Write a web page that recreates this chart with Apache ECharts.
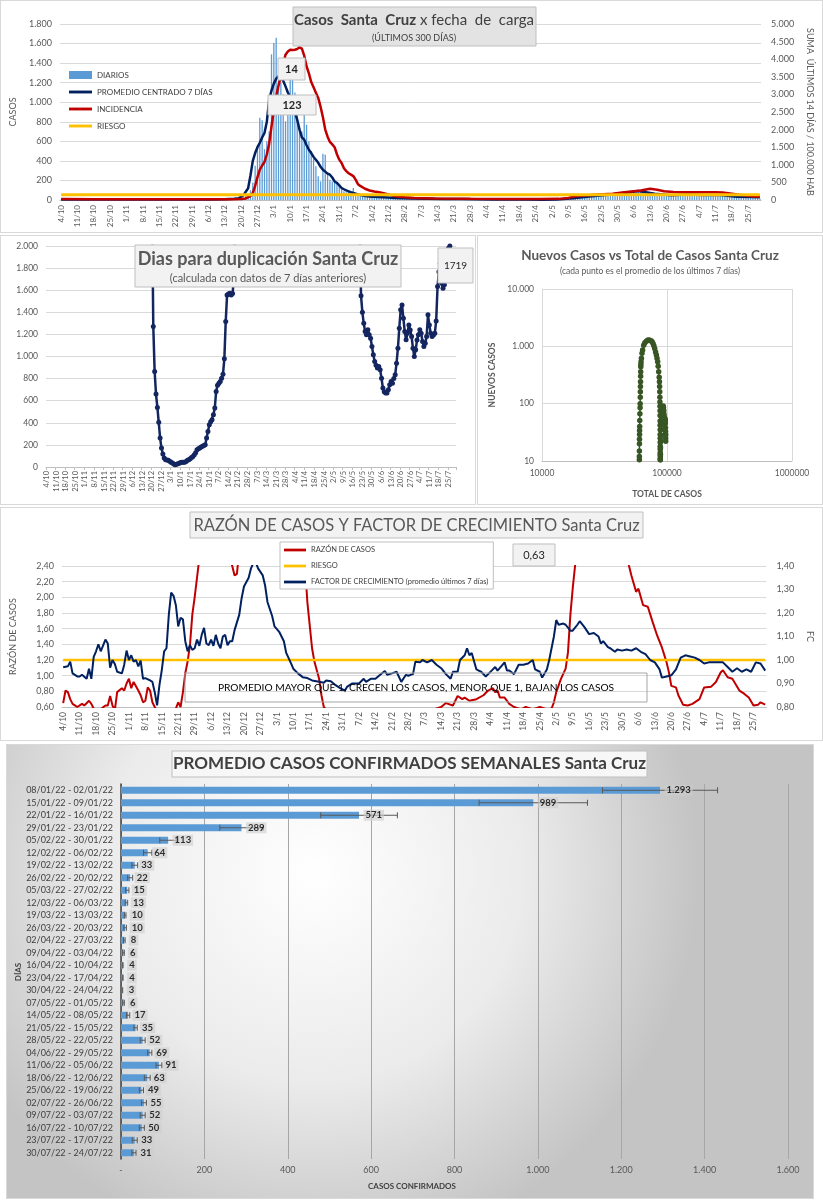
<!DOCTYPE html>
<html><head><meta charset="utf-8">
<script src="https://cdn.jsdelivr.net/npm/echarts@6/dist/echarts.min.js"></script>
<style>
body{margin:0;background:#fff;width:823px;height:1200px;position:relative;overflow:hidden}
.p{position:absolute;box-shadow:0 0 0 1px #d9d9d9}
</style></head><body>
<div id="c1" class="p" style="left:1px;top:1px;width:821px;height:231px"></div>
<div id="c2" class="p" style="left:1px;top:236px;width:474px;height:268px"></div>
<div id="c3" class="p" style="left:478px;top:236px;width:344px;height:268px"></div>
<div id="c4" class="p" style="left:1px;top:508px;width:821px;height:232px"></div>
<div id="c5" class="p" style="left:7px;top:745px;width:806px;height:453px"></div>
<script>
// ---------- DATA ----------
const startDate = [2021, 9, 4]; // 4/10/2021, 300 days
const dates = [];
for (let i = 0; i < 300; i++) { const d = new Date(Date.UTC(startDate[0], startDate[1], startDate[2] + i)); dates.push(d.getUTCDate() + '/' + (d.getUTCMonth() + 1)); }

const diarios = [
6,4,5,8,3,2,5,7,4,6,5,3,2,6,8,5,4,7,3,2,5,6,4,8,5,3,2,6,
5,7,4,3,6,5,2,4,6,5,7,3,2,4,3,5,2,1,4,3,2,3,5,4,6,3,5,4,7,6,
5,8,6,4,7,9,5,6,8,10,7,9,6,8,11,9,12,10,14,
15,25,40,60,100,180,350,550,840,815,520,600,700,1490,1605,1660,1250,1200,1080,805,
900,1264,1250,1100,950,736,700,
880,770,600,500,420,344,242,
190,474,463,276,208,190,200,
190,150,120,90,80,85,75,
123,70,60,55,50,45,45,
40,35,38,30,32,28,28,
25,24,22,20,22,21,20,
18,16,14,15,13,15,14,
14,12,13,15,12,13,12,
11,10,9,12,10,9,9,
9,11,10,10,12,9,9,
9,8,7,8,9,7,8,
7,6,5,6,7,5,6,
5,4,3,4,5,3,4,
4,5,3,4,4,3,5,
3,2,4,3,3,2,4,
4,5,6,7,6,7,7,
10,13,15,18,20,21,22,
25,30,33,36,40,38,43,
45,48,50,55,52,58,56,
60,65,70,68,72,70,78,
82,88,95,100,92,90,90,
80,72,65,60,58,55,51,
52,50,48,47,50,46,50,
52,55,58,54,56,57,53,
54,50,53,52,51,50,54,
52,50,48,51,49,52,48,
42,38,35,30,28,30,28,
30,33,35,32,34,37,14];

const promedio = [[0,5],[7,5],[14,5],[21,5],[28,5],[35,4],[42,4],[49,4],[56,5],[63,6],[70,8],[74,12],[76,18],[78,50],[80,120],[81,250],[82,400],[83,480],[84,540],[85,586],[86,640],[87,685],[88,800],[89,1025],[90,1120],[91,1190],[92,1240],[93,1264],[94,1255],[95,1220],[96,1162],[97,1100],[98,1050],[99,1000],[100,900],[101,821],[102,720],[103,640],[104,617],[105,560],[106,514],[107,480],[108,440],[109,412],[110,380],[111,340],[112,310],[113,290],[114,270],[115,259],[116,230],[117,190],[118,174],[119,150],[120,123],[121,110],[122,98],[123,89],[124,80],[125,72],[126,65],[128,50],[130,40],[133,34],[136,31],[140,25],[143,20],[150,15],[157,13],[164,10],[171,10],[178,8],[185,6],[192,4],[199,4],[206,3],[212,6],[219,17],[226,35],[233,52],[240,69],[247,91],[254,63],[261,49],[268,55],[275,52],[282,50],[289,33],[296,31],[299,28]];

const incidencia = [[0,25],[14,20],[28,22],[42,18],[56,20],[70,22],[73,20],[77,30],[79,45],[81,110],[82,200],[83,400],[84,650],[85,860],[86,980],[87,1080],[88,1300],[89,1600],[90,2090],[91,2550],[92,2945],[93,3250],[94,3513],[95,3850],[96,4129],[97,4220],[98,4270],[99,4260],[100,4270],[101,4290],[102,4337],[103,4300],[104,4100],[105,3800],[106,3600],[107,3350],[108,3200],[109,3050],[110,2900],[111,2650],[112,2350],[113,2000],[114,1800],[115,1650],[116,1580],[117,1500],[118,1300],[119,1146],[120,1050],[121,900],[122,820],[123,760],[124,720],[125,680],[126,580],[127,450],[128,400],[130,320],[132,270],[134,240],[136,218],[138,190],[140,160],[143,104],[147,80],[151,57],[160,45],[175,35],[190,30],[205,30],[213,32],[217,60],[220,104],[224,130],[228,150],[232,165],[236,180],[240,210],[244,240],[248,270],[252,322],[255,290],[258,246],[262,225],[266,218],[270,218],[275,218],[280,218],[283,215],[287,180],[290,150],[293,130],[296,100],[299,90]];

const riesgoIncidencia = 150;

const dupStart1 = 77;
const dupVals1 = [2500,1271,864,660,539,404,262,172,117,81,66,63,60,51,44,36,28,21,25,30,35,40,42,42,42,50,60,66,75,87,95,111,130,157,165,172,180,187,195,202,262,322,383,410,428,473,533,684,740,759,774,804,840,979,1316,1557,1565,1572,1557,1570,1708,2300];
const dupStart2 = 229;
const dupVals2 = [2300,1550,1400,1300,1226,1196,1241,1196,1166,1090,1015,955,920,895,910,880,804,714,680,669,669,699,744,774,759,800,834,940,1075,1256,1422,1467,1346,1226,1151,1211,1286,1240,1181,1075,1000,1060,1150,1196,1241,1211,1136,1090,1120,1181,1377,1286,1211,1181,1195,1211,1322,1633,1768,1843,1663,1617,1650,1708,1798,1979,2000,1850,1719];

const nuevosVsTotal = [[60100,10.5],[60100,12],[60150,15],[60200,20],[60250,24],[60300,29],[60350,34],[60450,40],[60550,51],[60700,67],[60900,85],[61000,100],[61100,130],[61200,161],[61300,200],[61400,240],[61500,300],[61600,359],[61700,440],[61800,480],[62000,537],[62400,620],[63100,760],[63800,861],[65100,1047],[66500,1150],[68400,1230],[70000,1280],[71300,1290],[72800,1280],[74500,1250],[75900,1200],[77300,1125],[78500,1020],[79700,920],[81000,800],[82200,703],[83200,620],[84200,537],[85000,450],[85800,359],[86600,290],[87000,240],[87300,200],[87500,161],[87700,130],[87800,107],[87900,90],[88000,75],[88000,62],[88100,50],[88100,42],[88200,35],[88200,29],[88200,25],[88300,21],[88300,18],[88300,16],[88300,14],[88400,13],[88400,12],[88400,11],[88400,10.5],[88500,10.5],[88600,13],[88700,17],[88900,22],[89100,28],[89400,35],[89700,42],[90100,50],[90500,57],[91000,64],[91500,69],[92000,76],[92600,84],[93200,91],[93700,86],[94200,76],[94600,66],[95000,60],[95300,54],[95600,50],[95900,52],[96200,55],[96500,53],[96800,50],[97000,45],[97200,38],[97300,33],[97400,30],[97500,28],[97550,25],[97600,22]];

const razon = [[0,0.65],[1,0.81],[2,0.79],[3,0.70],[4,0.64],[5,0.62],[6,0.60],[8,0.64],[9,0.62],[11,0.68],[12,0.64],[13,0.58],[15,0.55],[18,0.62],[19,0.62],[20,0.74],[21,0.62],[22,0.56],[23,0.79],[25,0.84],[26,0.81],[27,0.90],[28,0.96],[29,0.84],[30,0.92],[32,0.81],[33,0.75],[34,0.66],[35,0.68],[36,0.85],[37,0.81],[38,0.66],[39,0.60],[41,0.50],[44,0.45],[47,0.50],[49,0.66],[50,0.60],[51,0.79],[52,1.03],[53,1.18],[54,1.39],[55,1.78],[56,2.00],[57,2.25],[58,2.5],[59,3.0],[62,4.0],[66,3.5],[71,2.5],[72,2.40],[73,2.28],[74,2.30],[75,2.6],[80,5],[87,8],[95,6],[101,3],[103,2.40],[104,1.94],[106,1.35],[107,1.18],[109,0.96],[110,0.75],[111,0.60],[114,0.50],[120,0.45],[130,0.5],[140,0.5],[150,0.55],[155,0.55],[159,0.58],[161,0.60],[163,0.65],[166,0.62],[168,0.74],[170,0.70],[171,0.72],[173,0.68],[176,0.70],[179,0.75],[181,0.81],[183,0.84],[184,0.79],[185,0.81],[186,0.72],[188,0.72],[190,0.64],[192,0.60],[195,0.57],[197,0.60],[200,0.57],[203,0.60],[206,0.57],[208,0.58],[209,0.66],[210,0.79],[212,0.96],[214,1.09],[215,1.30],[216,1.77],[217,2.11],[218,2.40],[220,3.0],[228,4.0],[235,3.2],[241,2.40],[242,2.28],[244,2.07],[245,2.11],[247,1.90],[249,1.88],[251,1.69],[253,1.51],[255,1.36],[257,1.17],[258,1.04],[259,0.87],[261,0.85],[262,0.75],[264,0.63],[266,0.62],[268,0.64],[271,0.70],[273,0.85],[276,0.86],[278,0.92],[280,1.04],[281,1.07],[283,0.98],[285,0.96],[288,0.81],[290,0.77],[292,0.72],[294,0.62],[296,0.63],[297,0.66],[299,0.63]];

const factorCrec = [[0,0.969],[2,0.973],[3,0.993],[4,0.943],[6,0.93],[7,0.93],[8,0.937],[10,0.92],[11,0.963],[12,0.92],[13,1.013],[14,1.037],[15,1.067],[16,1.037],[18,1.087],[19,1.07],[20,0.967],[21,1.0],[22,0.983],[23,0.95],[25,0.943],[26,0.98],[27,1.04],[28,1.0],[29,1.02],[30,0.993],[31,1.0],[32,0.973],[33,0.997],[34,0.92],[35,0.923],[37,0.913],[38,0.907],[39,0.863],[40,0.807],[41,0.893],[42,0.957],[43,1.037],[44,1.05],[45,1.193],[46,1.287],[47,1.273],[48,1.233],[49,1.143],[50,1.18],[51,1.173],[52,1.08],[53,1.037],[54,1.063],[55,1.043],[56,1.05],[57,1.087],[58,1.06],[59,1.107],[60,1.137],[61,1.07],[62,1.063],[63,1.087],[64,1.06],[65,1.107],[66,1.07],[67,1.05],[68,1.10],[69,1.107],[70,1.063],[71,1.08],[72,1.08],[73,1.127],[75,1.193],[76,1.263],[77,1.313],[79,1.35],[80,1.39],[81,1.413],[82,1.417],[83,1.39],[85,1.36],[86,1.317],[87,1.247],[89,1.187],[90,1.143],[92,1.12],[94,1.08],[95,1.03],[97,0.987],[98,0.963],[100,0.943],[102,0.927],[104,0.923],[106,0.913],[109,0.907],[111,0.903],[112,0.913],[114,0.91],[116,0.893],[118,0.88],[120,0.87],[121,0.887],[123,0.90],[126,0.90],[128,0.92],[129,0.907],[131,0.92],[133,0.92],[135,0.937],[137,0.953],[138,0.937],[140,0.943],[142,0.95],[144,0.907],[146,0.937],[147,0.933],[148,0.937],[149,0.94],[150,0.993],[152,0.99],[153,1.0],[155,0.99],[157,1.0],[159,0.98],[161,0.965],[163,0.94],[165,0.92],[166,0.95],[168,0.95],[169,1.0],[171,1.02],[172,1.05],[173,1.02],[174,1.03],[176,0.96],[177,0.955],[178,0.95],[180,0.93],[181,0.94],[183,0.96],[184,0.97],[185,0.955],[188,0.99],[189,0.955],[190,0.955],[192,0.94],[194,0.98],[196,0.98],[198,0.985],[200,1.0],[201,0.96],[203,0.95],[204,0.925],[206,0.96],[207,1.0],[209,1.10],[210,1.17],[211,1.15],[213,1.155],[214,1.15],[216,1.125],[217,1.125],[219,1.15],[220,1.165],[222,1.14],[224,1.11],[226,1.115],[228,1.10],[229,1.07],[230,1.08],[232,1.055],[233,1.05],[235,1.035],[236,1.045],[238,1.04],[240,1.045],[242,1.04],[244,1.05],[246,1.035],[248,1.025],[250,1.0],[252,0.99],[254,0.96],[255,0.925],[257,0.93],[259,0.935],[261,0.96],[263,1.01],[265,1.02],[267,1.015],[269,1.01],[271,1.0],[273,0.985],[275,0.99],[277,0.99],[279,0.99],[281,0.99],[283,0.97],[285,0.95],[287,0.965],[289,0.95],[291,0.96],[293,0.95],[295,0.99],[297,0.985],[299,0.955]];
const riesgoFC = 1.0;

const semanas = ['08/01/22 - 02/01/22','15/01/22 - 09/01/22','22/01/22 - 16/01/22','29/01/22 - 23/01/22','05/02/22 - 30/01/22','12/02/22 - 06/02/22','19/02/22 - 13/02/22','26/02/22 - 20/02/22','05/03/22 - 27/02/22','12/03/22 - 06/03/22','19/03/22 - 13/03/22','26/03/22 - 20/03/22','02/04/22 - 27/03/22','09/04/22 - 03/04/22','16/04/22 - 10/04/22','23/04/22 - 17/04/22','30/04/22 - 24/04/22','07/05/22 - 01/05/22','14/05/22 - 08/05/22','21/05/22 - 15/05/22','28/05/22 - 22/05/22','04/06/22 - 29/05/22','11/06/22 - 05/06/22','18/06/22 - 12/06/22','25/06/22 - 19/06/22','02/07/22 - 26/06/22','09/07/22 - 03/07/22','16/07/22 - 10/07/22','23/07/22 - 17/07/22','30/07/22 - 24/07/22'];
const promSemanal = [1293,989,571,289,113,64,33,22,15,13,10,10,8,6,4,4,3,6,17,35,52,69,91,63,49,55,52,50,33,31];
const errSemanal = [138,130,92,52,20,10,7,6,4,3,2,3,2,2,1,1,1,2,4,4,6,5,7,7,5,6,6,6,6,5];

// ---------- HELPERS ----------
const FONT = 'Lato, "Noto Sans", sans-serif';
const GRAY = '#595959';
const LINE_ICON = 'path://M0,0H24V3H0Z';
const fmtK = v => String(v).replace(/\B(?=(\d{3})+(?!\d))/g, '.');
const fmtD2 = v => v.toFixed(2).replace('.', ',');
function box(x, y, w, h, fill, stroke) { return {type:'rect', shape:{x:x, y:y, width:w, height:h}, style:{fill:fill, stroke:stroke || '#bfbfbf', lineWidth:1}, z:100}; }
function txt(x, y, text, size, opts) { return {type:'text', x:x, y:y, z:101, style:Object.assign({text:text, fontSize:size, fontFamily:FONT, fill:'#404040', align:'center', verticalAlign:'middle'}, opts || {})}; }

// ---------- CHART 1 ----------
const c1 = echarts.init(document.getElementById('c1'));
c1.setOption({
  animation:false, textStyle:{fontFamily:FONT},
  grid:{left:59, top:23, width:710, height:176},
  legend:{orient:'vertical', left:63, top:65, itemWidth:23, itemHeight:8, itemGap:9, textStyle:{fontSize:8, color:'#404040', fontFamily:FONT},
    data:[{name:'DIARIOS', icon:'rect'}, {name:'PROMEDIO CENTRADO 7 DÍAS', icon:LINE_ICON}, {name:'INCIDENCIA', icon:LINE_ICON}, {name:'RIESGO', icon:LINE_ICON}]},
  xAxis:{type:'category', data:dates, axisLine:{lineStyle:{color:'#bfbfbf'}}, axisTick:{show:false},
    axisLabel:{interval:6, rotate:90, fontSize:8, color:GRAY, margin:5}},
  yAxis:[
    {type:'value', min:0, max:1800, interval:200, name:'CASOS', nameLocation:'middle', nameGap:42, nameTextStyle:{fontSize:9, color:GRAY},
      axisLabel:{fontSize:9, color:GRAY, formatter:fmtK}, splitLine:{lineStyle:{color:'#d9d9d9'}}, axisLine:{show:false}, axisTick:{show:false}},
    {type:'value', min:0, max:5000, interval:500, position:'right', name:'SUMA  ÚLTIMOS 14 DÍAS / 100.000 HAB', nameLocation:'middle', nameRotate:-90, nameGap:40,
      nameTextStyle:{fontSize:9, color:GRAY}, axisLabel:{fontSize:9, color:GRAY, formatter:fmtK, margin:10}, splitLine:{show:false}, axisLine:{show:false}, axisTick:{show:false}}
  ],
  series:[
    {name:'DIARIOS', type:'bar', data:diarios, barWidth:1.3, itemStyle:{color:'#5b9bd5'}},
    {name:'PROMEDIO CENTRADO 7 DÍAS', type:'line', data:promedio, symbol:'none', lineStyle:{width:2.5, color:'#002060'}, itemStyle:{color:'#002060'}},
    {name:'INCIDENCIA', type:'line', yAxisIndex:1, data:incidencia, symbol:'none', lineStyle:{width:2.5, color:'#c00000'}, itemStyle:{color:'#c00000'}},
    {name:'RIESGO', type:'line', yAxisIndex:1, data:dates.map(() => riesgoIncidencia), symbol:'none', lineStyle:{width:3, color:'#ffc000'}, itemStyle:{color:'#ffc000'}}
  ],
  graphic:[
    box(292, 6, 243, 39, '#e3e3e3'),
    txt(413, 19, '{b|Casos  Santa  Cruz} x fecha  de  carga', 15, {fill:'#404040', rich:{b:{fontWeight:'bold', fontSize:15, fill:'#404040', fontFamily:FONT}}}),
    txt(413, 37, '(ÚLTIMOS 300 DÍAS)', 9, {fill:'#404040'}),
    box(277, 57, 27, 22, '#f2f2f2'), txt(290.5, 68, '14', 11, {fontWeight:'bold', fill:'#262626'}),
    box(267, 94, 48, 20, '#f2f2f2'), txt(291, 104, '123', 11, {fontWeight:'bold', fill:'#262626'})
  ]
});

// ---------- CHART 2 ----------
const dupData = dates.map(() => null);
dupVals1.forEach((v, i) => { dupData[dupStart1 + i] = v; });
dupVals2.forEach((v, i) => { dupData[dupStart2 + i] = v; });
const c2 = echarts.init(document.getElementById('c2'));
c2.setOption({
  animation:false, textStyle:{fontFamily:FONT},
  grid:{left:45, top:10, width:410, height:221},
  xAxis:{type:'category', data:dates, axisLine:{lineStyle:{color:'#bfbfbf'}}, axisTick:{show:true, interval:6, length:3, lineStyle:{color:'#bfbfbf'}},
    axisLabel:{interval:6, rotate:90, fontSize:7.5, color:GRAY, margin:4}},
  yAxis:{type:'value', min:0, max:2000, interval:200, axisLabel:{fontSize:8.5, color:GRAY, formatter:fmtK}, splitLine:{lineStyle:{color:'#d9d9d9'}}},
  series:[{type:'line', data:dupData, symbol:'circle', symbolSize:5, showAllSymbol:true, clip:true, lineStyle:{width:2.5, color:'#142660'}, itemStyle:{color:'#142660'}}],
  graphic:[
    box(134, 9, 266, 42, '#f2f2f2'),
    txt(267, 23, 'Dias para duplicación Santa Cruz', 18, {fontWeight:'bold', fill:'#595959'}),
    txt(267, 42.5, '(calculada con datos de 7 días anteriores)', 11, {fill:'#595959'}),
    box(437, 12, 35, 35, '#f2f2f2'), txt(454.5, 30, '1719', 10, {fill:'#262626'})
  ]
});

// ---------- CHART 3 ----------
const c3 = echarts.init(document.getElementById('c3'));
c3.setOption({
  animation:false, textStyle:{fontFamily:FONT},
  title:{text:'Nuevos Casos vs Total de Casos Santa Cruz', subtext:'(cada punto es el promedio de los últimos 7 días)', left:'center', top:8, itemGap:4,
    textStyle:{fontSize:13.5, fontWeight:'bold', color:'#595959', fontFamily:FONT}, subtextStyle:{fontSize:8.5, color:'#595959', fontFamily:FONT}},
  grid:{left:64, top:53, width:250, height:172},
  xAxis:{type:'log', logBase:10, min:10000, max:1000000, name:'TOTAL DE CASOS', nameLocation:'middle', nameGap:29,
    nameTextStyle:{fontSize:8.5, fontWeight:'bold', color:GRAY}, axisLabel:{fontSize:8.5, color:GRAY, formatter:v => String(Math.round(v))},
    splitLine:{show:true, lineStyle:{color:'#d9d9d9'}}, axisLine:{lineStyle:{color:'#bfbfbf'}}, axisTick:{show:false}, minorTick:{show:false}},
  yAxis:{type:'log', logBase:10, min:10, max:10000, name:'NUEVOS CASOS', nameLocation:'middle', nameGap:42,
    nameTextStyle:{fontSize:8.5, fontWeight:'bold', color:GRAY}, axisLabel:{fontSize:8.5, color:GRAY, formatter:v => fmtK(Math.round(v))},
    splitLine:{lineStyle:{color:'#d9d9d9'}}, axisLine:{show:true, lineStyle:{color:'#d9d9d9'}}, axisTick:{show:false}},
  series:[{type:'line', data:nuevosVsTotal, symbol:'circle', symbolSize:5.5, showAllSymbol:true, clip:true, lineStyle:{width:1.5, color:'#375623'}, itemStyle:{color:'#375623'}}]
});

// ---------- CHART 4 ----------
const c4 = echarts.init(document.getElementById('c4'));
c4.setOption({
  animation:false, textStyle:{fontFamily:FONT},
  grid:{left:58, top:58, width:710, height:141},
  legend:{orient:'vertical', left:279, top:34, itemWidth:22, itemHeight:8, itemGap:8, padding:[4,5,3,4], backgroundColor:'#ffffff', borderColor:'#bfbfbf', borderWidth:1,
    textStyle:{fontSize:7.5, color:'#404040', fontFamily:FONT},
    data:[{name:'RAZÓN DE CASOS', icon:LINE_ICON}, {name:'RIESGO', icon:LINE_ICON}, {name:'FACTOR DE CRECIMIENTO (promedio últimos 7 días)', icon:LINE_ICON}]},
  xAxis:{type:'category', data:dates, axisLine:{lineStyle:{color:'#bfbfbf'}}, axisTick:{show:false},
    axisLabel:{interval:6, rotate:90, fontSize:8.5, color:GRAY, margin:5}},
  yAxis:[
    {type:'value', min:0.6, max:2.4, interval:0.2, name:'RAZÓN DE CASOS', nameLocation:'middle', nameGap:44, nameTextStyle:{fontSize:9, color:GRAY},
      axisLabel:{fontSize:9, color:GRAY, formatter:fmtD2}, splitLine:{lineStyle:{color:'#d9d9d9'}}, axisLine:{show:false}, axisTick:{show:false}},
    {type:'value', min:0.8, max:1.4, interval:0.1, position:'right', name:'FC', nameLocation:'middle', nameRotate:-90, nameGap:36, nameTextStyle:{fontSize:9, color:GRAY},
      axisLabel:{fontSize:9, color:GRAY, formatter:fmtD2, margin:10}, splitLine:{show:false}, axisLine:{show:false}, axisTick:{show:false}}
  ],
  series:[
    {name:'RAZÓN DE CASOS', type:'line', data:razon, symbol:'none', clip:true, lineStyle:{width:2, color:'#c00000'}, itemStyle:{color:'#c00000'}},
    {name:'RIESGO', type:'line', yAxisIndex:1, data:dates.map(() => riesgoFC), symbol:'none', lineStyle:{width:2.5, color:'#ffc000'}, itemStyle:{color:'#ffc000'}},
    {name:'FACTOR DE CRECIMIENTO (promedio últimos 7 días)', type:'line', yAxisIndex:1, data:factorCrec, symbol:'none', clip:true, lineStyle:{width:2, color:'#002060'}, itemStyle:{color:'#002060'}}
  ],
  graphic:[
    box(189, 4, 453, 26, '#f2f2f2'),
    txt(415.5, 17.5, 'RAZÓN DE CASOS Y FACTOR DE CRECIMIENTO Santa Cruz', 16.5, {fill:'#595959'}),
    box(512, 36, 42, 22, '#f2f2f2'), txt(533, 47, '0,63', 11, {fill:'#262626'}),
    {type:'rect', z:100, shape:{x:184, y:165, width:462, height:29}, style:{fill:'none', stroke:'#a6a6a6', lineWidth:1}},
    txt(415, 180, 'PROMEDIO MAYOR QUE 1, CRECEN LOS CASOS, MENOR QUE 1, BAJAN LOS CASOS', 10.2, {fill:'#000000'})
  ]
});

// ---------- CHART 5 ----------
const c5 = echarts.init(document.getElementById('c5'));
c5.setOption({
  animation:false, textStyle:{fontFamily:FONT},
  backgroundColor:new echarts.graphic.RadialGradient(0.38, 0.28, 0.85, [{offset:0, color:'#ffffff'}, {offset:0.55, color:'#ebebeb'}, {offset:1, color:'#c4c4c4'}]),
  grid:{left:114, top:39, width:667, height:375},
  xAxis:{type:'value', min:0, max:1600, interval:200, axisLabel:{fontSize:9, color:GRAY, margin:7, formatter:v => v === 0 ? '-' : fmtK(v)},
    splitLine:{lineStyle:{color:'#a6a6a6'}}, axisLine:{show:false}, axisTick:{show:false}},
  yAxis:{type:'category', data:semanas, inverse:true, axisLine:{lineStyle:{color:'#404040', width:1.5}}, axisTick:{show:false},
    axisLabel:{fontSize:9, color:'#404040', margin:8}},
  series:[
    {type:'bar', data:promSemanal, barWidth:7, itemStyle:{color:'#5b9bd5'}, z:2},
    {type:'custom', z:3, encode:{x:[1,2], y:0}, data:promSemanal.map((v, i) => [i, Math.max(0, v - errSemanal[i]), v + errSemanal[i]]),
      renderItem:(params, api) => {
        const c = api.value(0), p1 = api.coord([api.value(1), c]), p2 = api.coord([api.value(2), c]), h = 3;
        const st = {stroke:'#595959', lineWidth:1};
        return {type:'group', children:[
          {type:'line', shape:{x1:p1[0], y1:p1[1], x2:p2[0], y2:p2[1]}, style:st},
          {type:'line', shape:{x1:p1[0], y1:p1[1]-h, x2:p1[0], y2:p1[1]+h}, style:st},
          {type:'line', shape:{x1:p2[0], y1:p2[1]-h, x2:p2[0], y2:p2[1]+h}, style:st}]};
      }},
    {type:'scatter', z:5, data:promSemanal.map((v, i) => [v, i]), symbolSize:1, itemStyle:{color:'rgba(0,0,0,0)'}, silent:true,
      label:{show:true, position:'right', distance:4, formatter:p => fmtK(p.value[0]), fontSize:9.5, fontWeight:'bold', color:'#000',
        backgroundColor:'rgba(205,205,205,0.75)', padding:[1,2,0,2]}}
  ],
  graphic:[
    box(165, 6, 475, 26, '#f7f7f7'),
    txt(402.5, 19, 'PROMEDIO CASOS CONFIRMADOS SEMANALES Santa Cruz', 17, {fontWeight:'bold', fill:'#404040'}),
    txt(405, 441, 'CASOS CONFIRMADOS', 8, {fontWeight:'bold', fill:'#404040'}),
    {type:'text', x:11, y:227, rotation:Math.PI/2, z:101, style:{text:'DÍAS', fontSize:8, fontWeight:'bold', fontFamily:FONT, fill:'#404040', align:'center', verticalAlign:'middle'}}
  ]
});
</script>
</body></html>
